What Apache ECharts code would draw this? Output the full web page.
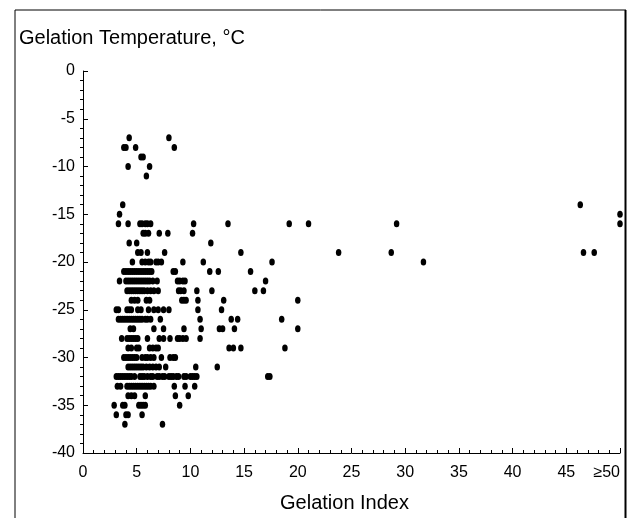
<!DOCTYPE html>
<html>
<head>
<meta charset="utf-8">
<script src="https://cdn.jsdelivr.net/npm/echarts@6/dist/echarts.min.js"></script>
<style>
html,body{margin:0;padding:0;background:#fff;}
#chart{width:629px;height:518px;}
</style>
</head>
<body>
<div id="chart"></div>
<script>
// Gelation temperature rows (°C) and the gelation index of each point in that row
const temperatures = [-7,-8,-9,-10,-11,-14,-15,-16,-17,-18,-19,-20,-21,-22,-23,-24,-25,-26,-27,-28,-29,-30,-31,-32,-33,-34,-35,-36,-37];
const gelIdxM7  = [4.3, 8.0];
const gelIdxM8  = [3.8, 4.0, 4.9, 8.5];
const gelIdxM9  = [5.4, 5.6];
const gelIdxM10 = [4.2, 6.2];
const gelIdxM11 = [5.9];
const gelIdxM14 = [3.7, 46.3];
const gelIdxM15 = [3.4, 50];
const gelIdxM16 = [3.3, 4.2, 5.3, 5.5, 5.8, 6.0, 6.3, 10.3, 13.5, 19.2, 21.0, 29.2, 50];
const gelIdxM17 = [5.6, 5.8, 6.1, 7.1, 7.9, 10.2];
const gelIdxM18 = [4.3, 5.0, 11.9];
const gelIdxM19 = [5.1, 5.4, 6.0, 7.6, 14.7, 23.8, 28.7, 46.6, 47.6];
const gelIdxM20 = [4.6, 5.5, 5.8, 6.1, 6.3, 6.8, 7.0, 7.3, 9.3, 11.2, 17.6, 31.7];
const gelIdxM21 = [3.8, 4.0, 4.2, 4.4, 4.6, 4.8, 5.0, 5.2, 5.4, 5.6, 5.8, 6.0, 6.2, 6.4, 8.4, 8.6, 11.8, 12.6, 15.6];
const gelIdxM22 = [3.4, 4.0, 4.2, 4.4, 4.6, 4.8, 5.0, 5.2, 5.4, 5.6, 5.8, 6.0, 6.2, 6.5, 6.9, 8.8, 9.0, 9.3, 9.5, 17.0];
const gelIdxM23 = [4.1, 4.3, 4.5, 4.7, 4.9, 5.1, 5.3, 5.5, 5.7, 6.0, 6.3, 6.6, 7.0, 8.9, 9.1, 9.4, 10.6, 12.0, 16.0, 16.8];
const gelIdxM24 = [4.5, 4.8, 5.1, 5.9, 6.2, 9.2, 9.4, 9.6, 10.7, 13.1, 20.0];
const gelIdxM25 = [3.1, 3.3, 4.1, 4.3, 4.5, 5.1, 5.4, 6.1, 6.6, 7.0, 7.5, 8.0, 10.7, 12.9];
const gelIdxM26 = [3.3, 3.5, 3.7, 3.9, 4.1, 4.3, 4.5, 4.7, 4.9, 5.1, 5.3, 5.5, 5.8, 6.0, 6.3, 7.2, 10.9, 13.8, 14.4, 18.5];
const gelIdxM27 = [4.4, 4.7, 6.6, 7.5, 9.4, 11.0, 12.7, 13.0, 14.1, 20.0];
const gelIdxM28 = [3.6, 4.1, 4.3, 4.5, 4.7, 4.9, 5.1, 6.0, 7.1, 7.5, 8.1, 8.8, 9.0, 9.3, 9.6, 10.9];
const gelIdxM29 = [4.2, 4.5, 5.0, 5.2, 6.2, 6.5, 6.8, 7.0, 13.6, 14.0, 14.7, 18.8];
const gelIdxM30 = [3.8, 4.0, 4.2, 4.4, 4.6, 4.8, 5.0, 5.5, 5.8, 6.0, 6.3, 6.6, 7.3, 8.1, 8.4, 8.6];
const gelIdxM31 = [4.2, 4.4, 4.6, 4.8, 5.0, 5.2, 5.4, 5.6, 5.9, 6.2, 6.5, 6.8, 7.1, 7.7, 10.5, 12.5];
const gelIdxM32 = [3.1, 3.3, 3.5, 3.7, 3.9, 4.1, 4.3, 4.5, 4.8, 5.3, 5.5, 5.7, 6.0, 6.3, 6.5, 6.9, 7.1, 7.4, 7.6, 8.0, 8.2, 8.4, 8.7, 8.9, 9.4, 9.6, 10.0, 10.2, 10.4, 10.6, 17.2, 17.4];
const gelIdxM33 = [3.2, 3.5, 4.1, 4.3, 4.5, 4.7, 4.9, 5.1, 5.3, 5.5, 5.7, 5.9, 6.1, 6.3, 6.6, 8.5, 9.5, 10.4];
const gelIdxM34 = [4.2, 4.5, 4.8, 5.8, 8.6, 9.8];
const gelIdxM35 = [2.9, 3.7, 3.9, 5.2, 5.4, 5.6, 5.8, 9.0];
const gelIdxM36 = [3.1, 4.0, 4.2, 5.5];
const gelIdxM37 = [3.9, 7.4];
const gelIdxRows = [gelIdxM7, gelIdxM8, gelIdxM9, gelIdxM10, gelIdxM11, gelIdxM14, gelIdxM15, gelIdxM16, gelIdxM17, gelIdxM18, gelIdxM19, gelIdxM20, gelIdxM21, gelIdxM22, gelIdxM23, gelIdxM24, gelIdxM25, gelIdxM26, gelIdxM27, gelIdxM28, gelIdxM29, gelIdxM30, gelIdxM31, gelIdxM32, gelIdxM33, gelIdxM34, gelIdxM35, gelIdxM36, gelIdxM37];

const xTickLabels = ['0','5','10','15','20','25','30','35','40','45','\u226550'];
const yTickLabels = ['-40','-35','-30','-25','-20','-15','-10','-5','0'];

const points = [];
temperatures.forEach((t, i) => gelIdxRows[i].forEach(x => points.push([x, t])));

const chart = echarts.init(document.getElementById('chart'), null, {renderer: 'canvas'});
const FONT = 'Liberation Sans, Arial, Helvetica, sans-serif';
chart.setOption({
  animation: false,
  backgroundColor: '#ffffff',
  grid: {left: 83, right: 9, top: 71, bottom: 62, containLabel: false},
  xAxis: {
    type: 'value', min: 0, max: 50, interval: 5, position: 'bottom',
    name: 'Gelation Index', nameLocation: 'middle', nameGap: 40,
    nameTextStyle: {fontFamily: FONT, fontSize: 20, color: '#000', padding: [0, 14, 0, 0]},
    axisLine: {show: true, onZero: false, lineStyle: {color: '#000', width: 1}},
    axisTick: {show: true, inside: true, length: 5, lineStyle: {color: '#000'}},
    minorTick: {show: true, splitNumber: 5, length: 3, lineStyle: {color: '#000'}},
    splitLine: {show: false},
    axisLabel: {
      fontFamily: FONT, fontSize: 16, color: '#000', margin: 12,
      alignMaxLabel: 'right',
      formatter: v => xTickLabels[Math.round(v / 5)]
    }
  },
  yAxis: [{
    type: 'value', min: -40, max: 0, interval: 5,
    axisLine: {show: true, onZero: false, lineStyle: {color: '#000', width: 1}},
    axisTick: {show: true, inside: true, length: 5, lineStyle: {color: '#000'}},
    splitLine: {show: false},
    axisLabel: {
      fontFamily: FONT, fontSize: 16, color: '#000', margin: 8,
      formatter: v => yTickLabels[Math.round((v + 40) / 5)]
    }
  }, {
    type: 'value', min: -40, max: 0, interval: 5, position: 'left',
    axisLine: {show: false, onZero: false},
    axisTick: {show: false},
    minorTick: {show: true, splitNumber: 5, length: 3, lineStyle: {color: '#000'}},
    splitLine: {show: false},
    axisLabel: {show: false}
  }],
  graphic: [
    {type: 'text', left: 19, top: 28, style: {text: 'Gelation Temperature, \u00b0C', font: '20px ' + FONT, fill: '#000'}},
    {type: 'line', shape: {x1: 15, y1: 10, x2: 626, y2: 10}, style: {stroke: '#000', lineWidth: 1}},
    {type: 'line', shape: {x1: 15, y1: 10, x2: 15, y2: 518}, style: {stroke: '#000', lineWidth: 1}},
    {type: 'line', shape: {x1: 625.5, y1: 10, x2: 625.5, y2: 518}, style: {stroke: '#000', lineWidth: 2}}
  ],
  series: [{
    type: 'scatter',
    yAxisIndex: 0,
    data: points,
    symbol: 'circle',
    symbolSize: [5.5, 7],
    itemStyle: {color: '#000', opacity: 1},
    emphasis: {disabled: true},
    clip: false
  }]
});
</script>
</body>
</html>
